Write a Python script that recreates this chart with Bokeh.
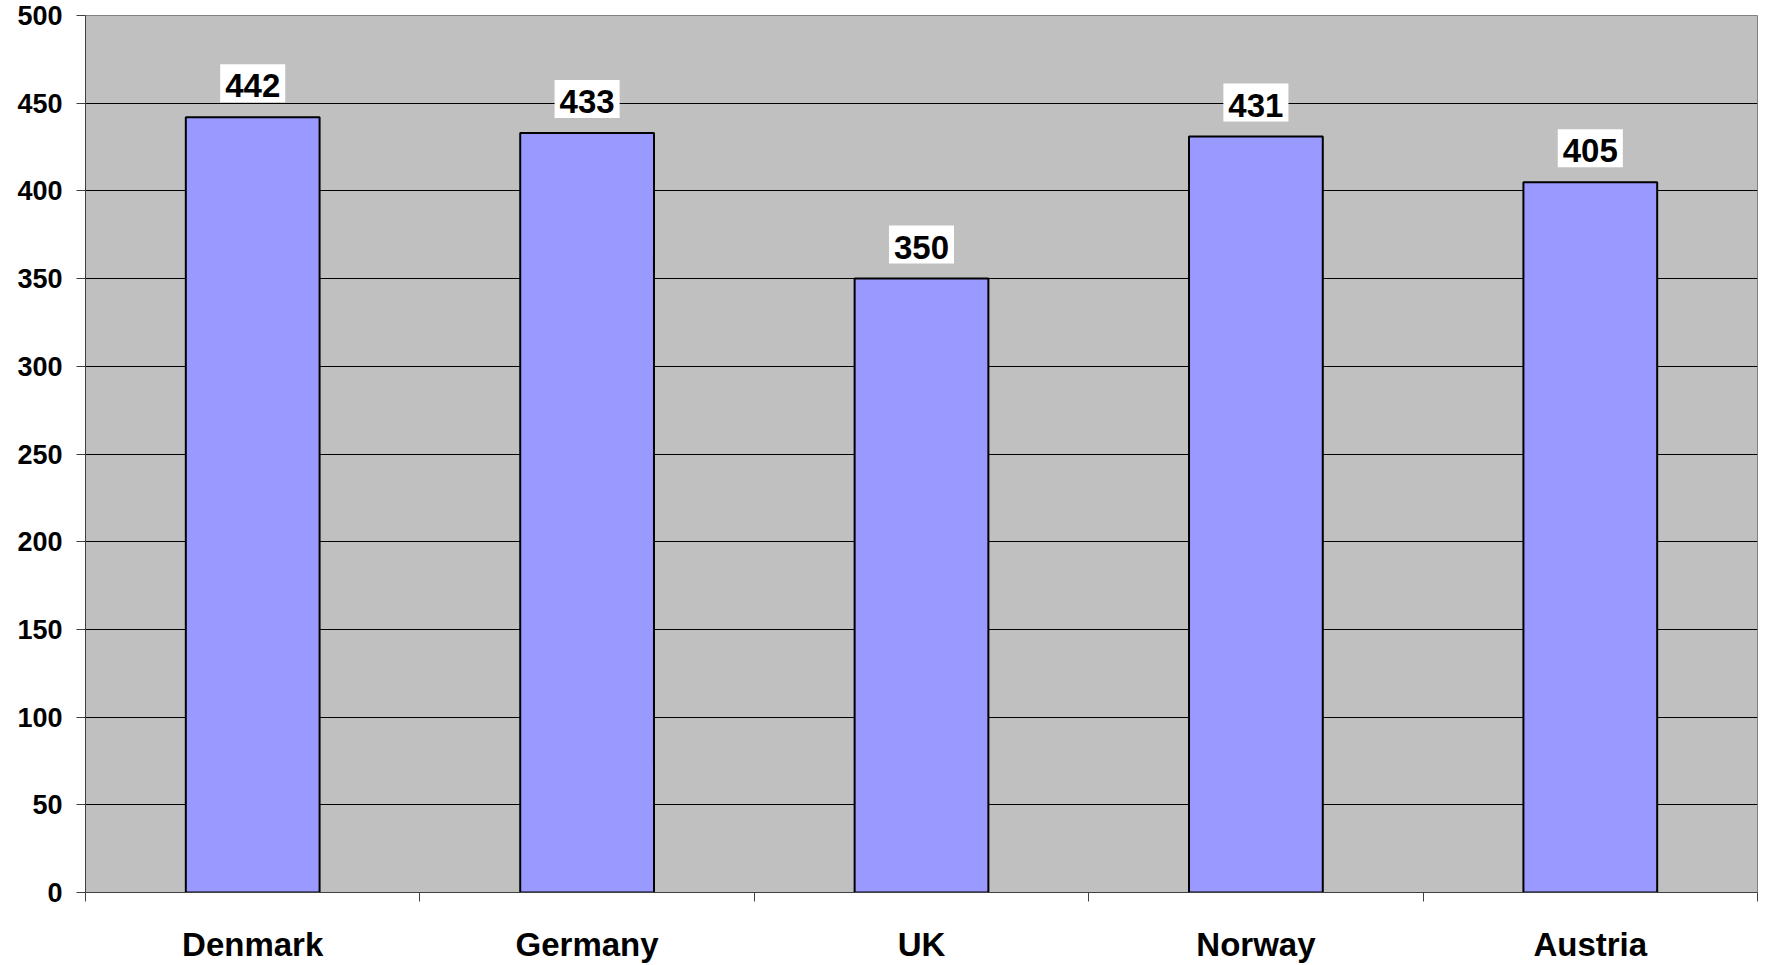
from bokeh.plotting import figure
from bokeh.models import ColumnDataSource, FixedTicker, Range1d
from bokeh.core.properties import value
from bokeh.embed import file_html
from bokeh.resources import INLINE

countries = ["Denmark", "Germany", "UK", "Norway", "Austria"]
values = [442, 433, 350, 431, 405]
y_ticks = [0, 50, 100, 150, 200, 250, 300, 350, 400, 450, 500]

xs = [i + 0.5 for i in range(len(countries))]
src = ColumnDataSource(dict(x=xs, top=values, label=[str(v) for v in values]))

FONT = "Liberation Sans"

p = figure(width=1765, height=965, output_backend="svg", toolbar_location=None,
           x_range=Range1d(0, len(countries)), y_range=Range1d(0, 500),
           min_border_left=85, min_border_right=8, min_border_top=15, min_border_bottom=73)
p.background_fill_color = "#C0C0C0"
p.border_fill_color = "white"
p.outline_line_color = "#808080"
p.outline_line_width = 1

p.vbar(x="x", top="top", width=0.4, bottom=0, source=src,
       fill_color="#9999FF", line_color="black", line_width=2)

p.text(x="x", y="top", text="label", source=src, y_offset=-34,
       text_align="center", text_baseline="alphabetic",
       text_font=value(FONT), text_font_style="bold", text_font_size="33px",
       text_color="black", background_fill_color="white",
       padding=dict(left=5, right=5, top=10, bottom=5))

# x axis
p.xaxis.ticker = FixedTicker(ticks=xs, minor_ticks=list(range(len(countries) + 1)))
p.xaxis.major_label_overrides = {x: c for x, c in zip(xs, countries)}
p.xaxis.major_tick_line_color = None
p.xaxis.minor_tick_line_color = "#404040"
p.xaxis.minor_tick_out = 9
p.xaxis.minor_tick_in = 0
p.xaxis.major_label_standoff = 24
p.xaxis.major_label_text_font = FONT
p.xaxis.major_label_text_font_style = "bold"
p.xaxis.major_label_text_font_size = "33px"
p.xaxis.major_label_text_color = "black"
p.xaxis.axis_line_color = "#404040"

# y axis
p.yaxis.ticker = FixedTicker(ticks=y_ticks, minor_ticks=[])
p.yaxis.major_tick_out = 9
p.yaxis.major_tick_in = 0
p.yaxis.major_tick_line_color = "#404040"
p.yaxis.major_label_standoff = 14
p.yaxis.major_label_text_font = FONT
p.yaxis.major_label_text_font_style = "bold"
p.yaxis.major_label_text_font_size = "27px"
p.yaxis.major_label_text_color = "black"
p.yaxis.axis_line_color = "#404040"

p.xgrid.grid_line_color = None
p.ygrid.grid_line_color = "black"
p.ygrid.grid_line_width = 1

open("out.html", "w").write(file_html(p, INLINE))
